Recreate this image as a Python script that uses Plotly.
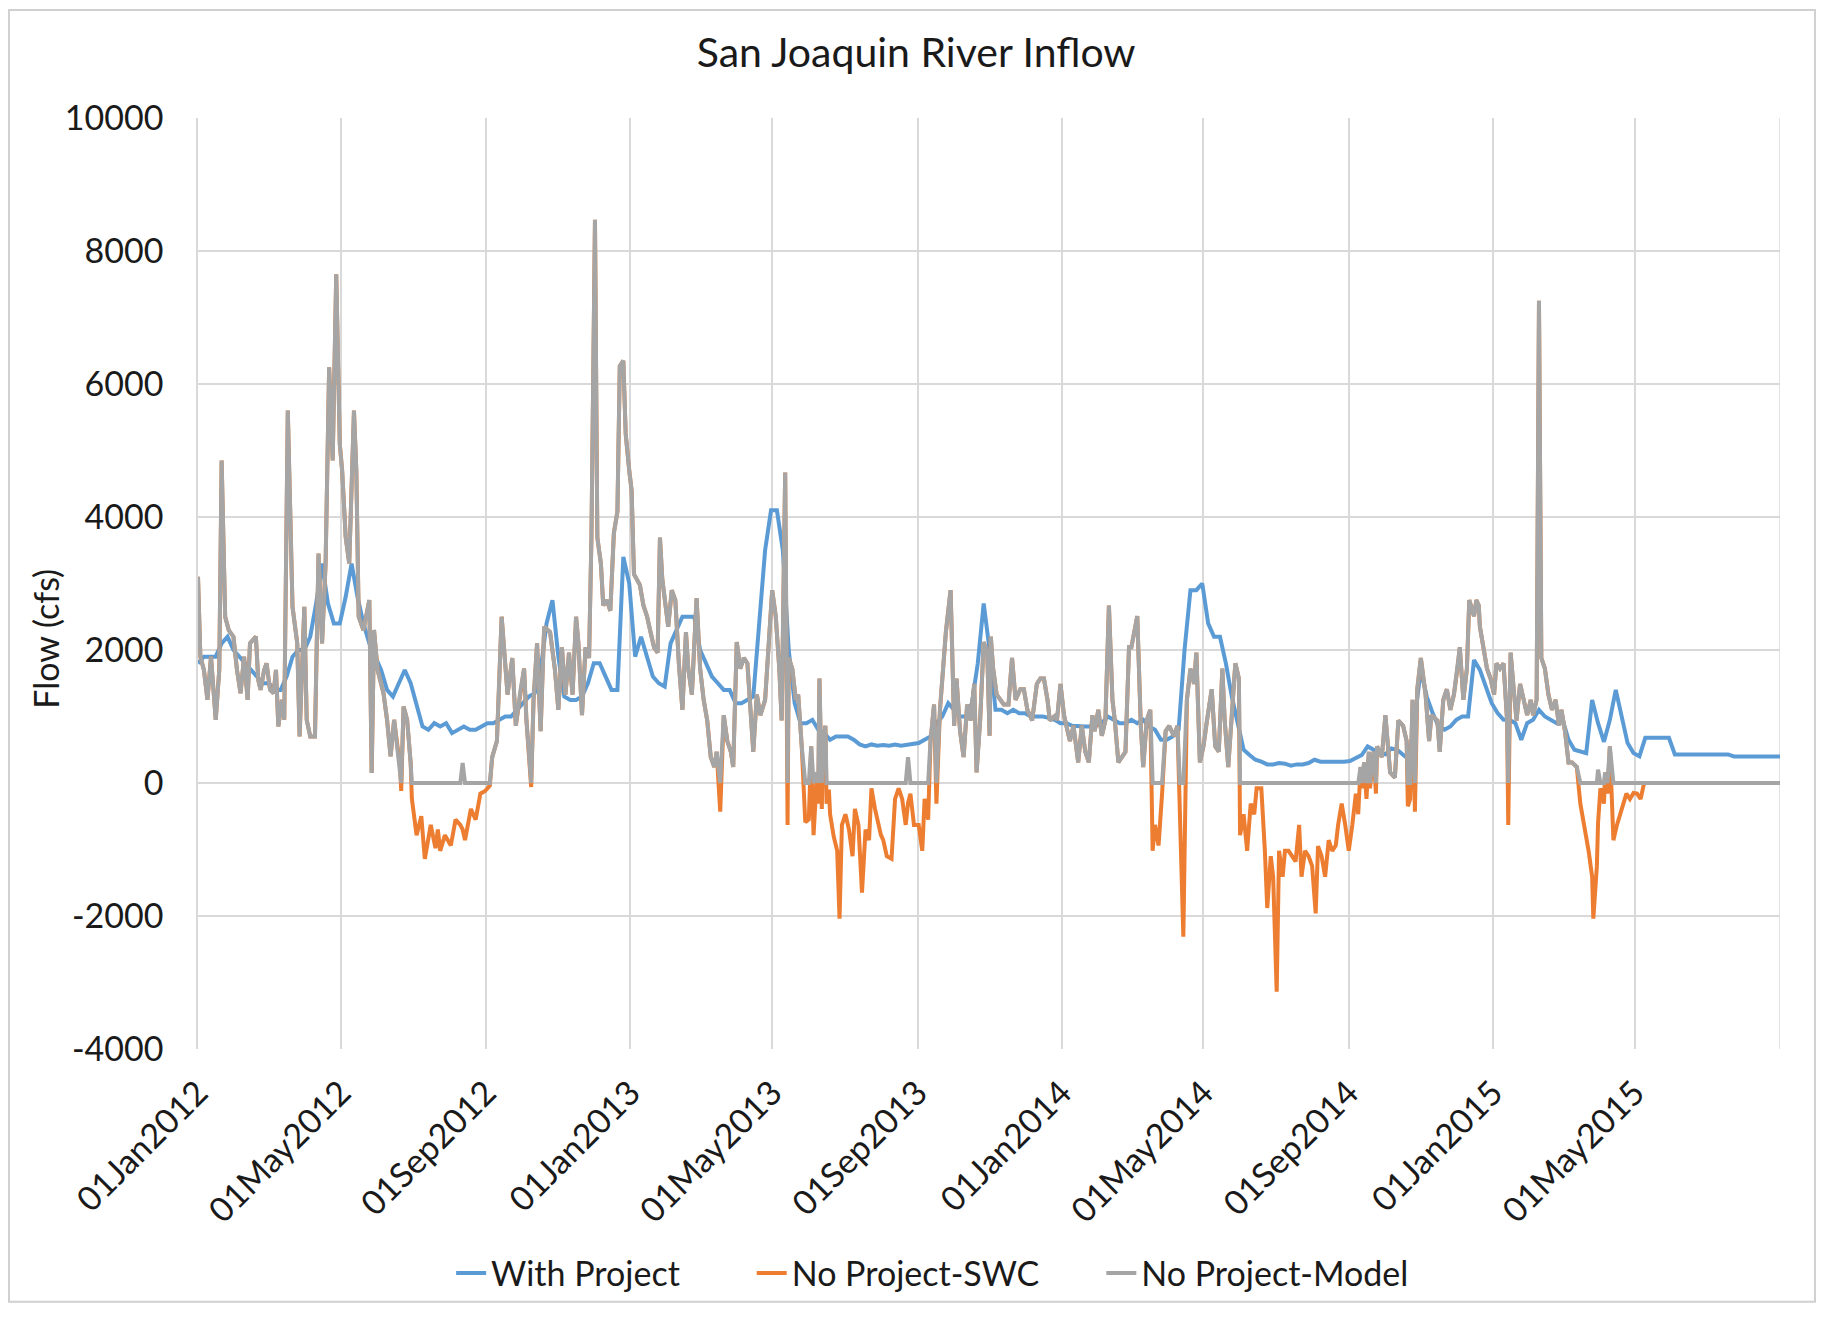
import pandas as pd
import plotly.graph_objects as go

start_date = "2012-01-01"

# ---- With Project: 5-day samples from 01Jan2012 (cfs) ----
with_project = [
    1800, 1900, 1900, 1900, 2100, 2200, 2000, 1900, 1800, 1700, 1600, 1500, 1500, 1400, 1400, 1600,
    1900, 2000, 2000, 2200, 2700, 3300, 2700, 2400, 2400, 2800, 3300, 2800, 2400, 2100, 1900, 1700,
    1400, 1300, 1500, 1700, 1500, 1200, 850, 800, 900, 850, 900, 750, 800, 850, 800, 800,
    850, 900, 900, 950, 1000, 1000, 1100, 1200, 1300, 1350, 1700, 2400, 2750, 1900, 1300, 1250,
    1250, 1300, 1500, 1800, 1800, 1600, 1400, 1400, 3400, 3000, 1900, 2200, 1900, 1600, 1500, 1450,
    2100, 2300, 2500, 2500, 2500, 2000, 1800, 1600, 1500, 1400, 1400, 1200, 1200, 1250, 1300, 2400,
    3500, 4100, 4100, 3500, 2000, 1200, 900, 900, 950, 800, 750, 650, 700, 700, 700, 650,
    580, 550, 580, 560, 570, 560, 580, 560, 570, 580, 600, 650, 700, 900, 1000, 1200,
    1100, 1000, 1000, 1200, 1800, 2700, 2000, 1100, 1100, 1050, 1100, 1050, 1050, 1000, 1000, 1000,
    980, 950, 900, 900, 860, 850, 850, 850, 860, 900, 1000, 950, 900, 900, 950, 900,
    950, 850, 800, 650, 650, 700, 800, 2000, 2900, 2900, 3000, 2400, 2200, 2200, 1800, 1300,
    900, 500, 420, 350, 320, 280, 280, 300, 290, 260, 280, 280, 300, 350, 320, 320,
    310, 310, 320, 330, 380, 420, 550, 500, 450, 430, 520, 500, 420, 350, 1000, 1700,
    1300, 1050, 850, 800, 850, 950, 1000, 1000, 1850, 1700, 1450, 1200, 1050, 950, 950, 900,
    650, 900, 950, 1100, 1000, 950, 900, 950, 650, 500, 480, 450, 1250, 900, 620, 950,
    1400, 1000, 600, 450, 400, 680, 680, 680, 680, 680, 430, 430, 430, 430, 430, 430,
    430, 430, 430, 430, 400, 400, 400, 400, 400, 400, 400, 400, 400,
]

# ---- No Project series: sampled on the days below (days after 01Jan2012) ----
no_project_days = [
    0, 2, 5, 8, 11, 15, 18, 20, 23, 26,
    30, 33, 36, 39, 42, 44, 49, 51, 53, 56,
    58, 61, 64, 66, 68, 71, 73, 76, 80, 84,
    86, 90, 92, 95, 99, 102, 105, 108, 111, 114,
    117, 120, 122, 125, 128, 132, 134, 136, 140, 145,
    147, 149, 152, 154, 157, 160, 163, 166, 169, 171,
    172, 174, 177, 180, 181, 185, 189, 192, 197, 201,
    203, 205, 209, 214, 218, 222, 224, 226, 231, 235,
    239, 243, 247, 249, 253, 257, 262, 266, 269, 273,
    276, 278, 282, 284, 287, 290, 293, 298, 302, 305,
    308, 311, 314, 317, 320, 322, 325, 328, 331, 333,
    336, 338, 341, 343, 346, 349, 352, 355, 357, 360,
    362, 365, 367, 369, 372, 374, 377, 380, 383, 386,
    389, 391, 393, 396, 398, 401, 404, 407, 410, 413,
    415, 418, 422, 425, 428, 431, 434, 437, 439, 442,
    445, 448, 451, 453, 456, 459, 462, 465, 468, 470,
    473, 476, 480, 483, 486, 489, 492, 494, 497, 499,
    500, 503, 506, 508, 511, 514, 517, 519, 521, 524,
    525, 526, 528, 529, 531, 532, 534, 535, 538, 541,
    543, 545, 548, 551, 554, 556, 559, 562, 565, 568,
    570, 573, 578, 580, 583, 587, 590, 593, 596, 599,
    601, 603, 606, 610, 613, 615, 618, 620, 623, 625,
    628, 633, 637, 640, 642, 645, 648, 651, 654, 657,
    659, 662, 665, 668, 670, 671, 673, 676, 679, 682,
    686, 689, 692, 696, 699, 702, 706, 710, 713, 716,
    719, 721, 726, 727, 730, 733, 736, 738, 741, 745,
    748, 751, 754, 757, 759, 762, 765, 768, 771, 774,
    776, 779, 782, 785, 788, 790, 795, 798, 800, 803,
    806, 808, 810, 813, 816, 819, 822, 826, 829, 831,
    834, 837, 840, 843, 845, 848, 851, 854, 858, 861,
    864, 867, 869, 872, 875, 878, 881, 882, 885, 888,
    891, 894, 896, 900, 903, 905, 908, 910, 913, 915,
    918, 920, 923, 926, 929, 932, 934, 937, 940, 943,
    946, 948, 951, 954, 957, 960, 963, 965, 968, 971,
    974, 977, 980, 982, 984, 985, 987, 989, 991, 992,
    995, 997, 998, 1002, 1005, 1009, 1013, 1016, 1020, 1023,
    1024, 1026, 1028, 1030, 1032, 1035, 1039, 1042, 1044, 1049,
    1051, 1054, 1057, 1060, 1063, 1066, 1068, 1071, 1074, 1076,
    1080, 1082, 1084, 1085, 1088, 1091, 1094, 1097, 1099, 1102,
    1105, 1108, 1109, 1111, 1114, 1116, 1119, 1122, 1125, 1128,
    1130, 1133, 1135, 1137, 1140, 1143, 1146, 1149, 1152, 1154,
    1157, 1159, 1160, 1163, 1167, 1170, 1174, 1177, 1180, 1181,
    1184, 1185, 1187, 1190, 1191, 1193, 1195, 1198, 1201, 1204,
    1207, 1209, 1212, 1215, 1218, 1221, 1224, 1340,
]

no_project_model = [
    3100, 1900, 1700, 1250, 1900, 950, 1700, 4850, 2500, 2300,
    2200, 1700, 1350, 1900, 1250, 2100, 2200, 1550, 1400, 1700,
    1800, 1400, 1350, 1700, 850, 1250, 950, 5600, 2650, 2100,
    700, 2650, 950, 700, 700, 3450, 2100, 3300, 6250, 4850,
    7650, 5100, 4700, 3700, 3300, 5600, 4700, 2500, 2300, 2750,
    150, 2300, 1700, 1550, 1350, 950, 400, 950, 450, 250,
    0, 1150, 950, 300, 0, 0, 0, 0, 0, 0,
    0, 0, 0, 0, 0, 0, 300, 0, 0, 0,
    0, 0, 0, 390, 630, 2500, 1330, 1880, 860, 1400,
    1720, 940, 0, 1250, 2100, 780, 2350, 2270, 1720, 1100,
    2040, 1330, 1960, 1330, 2500, 2100, 1020, 2040, 1880, 3690,
    8470, 3690, 3300, 2670, 2750, 2590, 3760, 4080, 6270, 6350,
    5250, 4700, 4400, 3140, 3060, 2980, 2670, 2510, 2270, 2040,
    1960, 3690, 3060, 2670, 2350, 2900, 2750, 1800, 1100, 2270,
    1720, 1330, 2780, 1720, 1250, 940, 390, 240, 470, 0,
    1020, 630, 470, 240, 2120, 1720, 1880, 1800, 940, 470,
    1330, 1020, 1250, 2040, 2900, 2510, 1720, 940, 4670, 0,
    1880, 1720, 1250, 1330, 550, 0, 0, 550, 0, 160,
    0, 1570, 0, 550, 860, 0, 0, 0, 0, 0,
    0, 0, 0, 0, 0, 0, 0, 0, 0, 0,
    0, 0, 0, 0, 0, 0, 0, 0, 0, 0,
    390, 0, 0, 0, 0, 0, 0, 630, 1180, 0,
    1100, 2270, 2900, 860, 1570, 780, 390, 1180, 940, 1490,
    160, 940, 2120, 1960, 710, 2200, 1720, 1330, 1250, 1180,
    1180, 1880, 1250, 1410, 1410, 1100, 940, 1490, 1570, 1570,
    1250, 940, 1020, 940, 1490, 1020, 780, 630, 860, 310,
    860, 470, 310, 1020, 780, 1100, 710, 940, 2670, 1250,
    940, 310, 390, 470, 2040, 2040, 2510, 860, 240, 940,
    1100, 0, 0, 0, 0, 780, 860, 710, 860, 0,
    0, 1250, 1720, 1490, 1960, 310, 550, 940, 1410, 550,
    470, 1720, 940, 240, 940, 1800, 1570, 0, 0, 0,
    0, 0, 0, 0, 0, 0, 0, 0, 0, 0,
    0, 0, 0, 0, 0, 0, 0, 0, 0, 0,
    0, 0, 0, 0, 0, 0, 0, 0, 0, 0,
    0, 0, 0, 0, 240, 0, 310, 0, 470, 0,
    470, 0, 550, 390, 1020, 160, 80, 940, 860, 630,
    0, 0, 1250, 0, 1410, 1880, 1330, 630, 1020, 940,
    470, 1250, 1410, 1100, 1330, 1720, 2040, 1250, 1720, 2750,
    2510, 2750, 2670, 2350, 2040, 1720, 1570, 1330, 1800, 1720,
    1800, 940, 0, 1960, 1330, 940, 1490, 1250, 1020, 1250,
    1020, 1250, 7250, 1880, 1720, 1330, 1100, 1250, 860, 1100,
    780, 470, 310, 310, 240, 0, 0, 0, 0, 0,
    0, 200, 0, 0, 160, 0, 550, 0, 0, 0,
    0, 0, 0, 0, 0, 0, 0, 0,
]

no_project_swc = [
    3100, 1900, 1700, 1250, 1900, 950, 1700, 4850, 2500, 2300,
    2200, 1700, 1350, 1900, 1250, 2100, 2200, 1550, 1400, 1700,
    1800, 1400, 1350, 1700, 850, 1250, 950, 5600, 2650, 2100,
    700, 2650, 950, 700, 700, 3450, 2100, 3300, 6250, 4850,
    7650, 5100, 4700, 3700, 3300, 5600, 4700, 2500, 2300, 2750,
    150, 2300, 1700, 1550, 1350, 950, 400, 950, 450, 250,
    -120, 1150, 950, 300, -235, -785, -500, -1140, -630, -980,
    -700, -1020, -785, -940, -550, -630, -700, -860, -390, -550,
    -160, -120, -40, 390, 630, 2500, 1330, 1880, 860, 1400,
    1720, 940, -60, 1250, 2100, 780, 2350, 2270, 1720, 1100,
    2040, 1330, 1960, 1330, 2500, 2100, 1020, 2040, 1880, 3690,
    8470, 3690, 3300, 2670, 2750, 2590, 3760, 4080, 6270, 6350,
    5250, 4700, 4400, 3140, 3060, 2980, 2670, 2510, 2270, 2040,
    1960, 3690, 3060, 2670, 2350, 2900, 2750, 1800, 1100, 2270,
    1720, 1330, 2780, 1720, 1250, 940, 390, 240, 470, -430,
    1020, 630, 470, 240, 2120, 1720, 1880, 1800, 940, 470,
    1330, 1020, 1250, 2040, 2900, 2510, 1720, 940, 4670, -630,
    1880, 1720, 1250, 1330, 550, -590, -550, 550, -785, 160,
    -310, 1570, -390, 550, 860, -310, -100, -470, -800, -1020,
    -2040, -630, -470, -700, -1100, -390, -630, -1650, -700, -860,
    -80, -390, -780, -860, -1100, -1140, -240, -80, -240, -630,
    -300, -160, -630, -630, -1020, -240, -550, 630, 1180, -310,
    1100, 2270, 2900, 860, 1570, 780, 390, 1180, 940, 1490,
    160, 940, 2120, 1960, 710, 2200, 1720, 1330, 1250, 1180,
    1180, 1880, 1250, 1410, 1410, 1100, 940, 1490, 1570, 1570,
    1250, 940, 1020, 940, 1490, 1020, 780, 630, 860, 310,
    860, 470, 310, 1020, 780, 1100, 710, 940, 2670, 1250,
    940, 310, 390, 470, 2040, 2040, 2510, 860, 240, 940,
    1100, -1020, -630, -940, -160, 780, 860, 710, 860, -240,
    -2310, 1250, 1720, 1490, 1960, 310, 550, 940, 1410, 550,
    470, 1720, 940, 240, 940, 1800, 1570, -785, -470, -1020,
    -310, -470, -80, -80, -1020, -1880, -1100, -1410, -3140, -1020,
    -1410, -1020, -1020, -1100, -1180, -630, -1410, -1020, -1100, -1250,
    -1960, -950, -1100, -1410, -860, -1020, -940, -630, -310, -630,
    -1020, -630, -160, -470, 240, -80, 310, -240, 470, -80,
    470, -160, 550, 390, 1020, 160, 80, 940, 860, 630,
    -350, -240, 1250, -430, 1410, 1880, 1330, 630, 1020, 940,
    470, 1250, 1410, 1100, 1330, 1720, 2040, 1250, 1720, 2750,
    2510, 2750, 2670, 2350, 2040, 1720, 1570, 1330, 1800, 1720,
    1800, 940, -630, 1960, 1330, 940, 1490, 1250, 1020, 1250,
    1020, 1250, 7250, 1880, 1720, 1330, 1100, 1250, 860, 1100,
    780, 470, 310, 310, 240, -310, -710, -1020, -1410, -2040,
    -1250, -600, -80, -310, 160, -160, 550, -860, -630, -470,
    -310, -160, -240, -150, -160, -240, 0, 0,
]

series_names = ["With Project", "No Project-SWC", "No Project-Model"]
series_colors = ["#5B9BD5", "#ED7D31", "#A5A5A5"]
series_widths = [4, 4, 4]

x_tick_vals = ["2012-01-01", "2012-05-01", "2012-09-01", "2013-01-01", "2013-05-01",
               "2013-09-01", "2014-01-01", "2014-05-01", "2014-09-01", "2015-01-01",
               "2015-05-01"]
x_tick_text = ["01Jan2012", "01May2012", "01Sep2012", "01Jan2013", "01May2013",
               "01Sep2013", "01Jan2014", "01May2014", "01Sep2014", "01Jan2015",
               "01May2015"]
x_grid_extra = ["2015-09-01"]
y_tick_vals = [-4000, -2000, 0, 2000, 4000, 6000, 8000, 10000]
y_tick_text = [str(v) for v in y_tick_vals]

t0 = pd.Timestamp(start_date)
wp_dates = pd.date_range(start_date, periods=len(with_project), freq="5D")
np_dates = t0 + pd.to_timedelta(no_project_days, unit="D")

FONT = "Lato"
TXT = "#1a1a1a"
GRID = "#d9d9d9"

fig = go.Figure()
legend_ids = ["legend", "legend2", "legend3"]
xs = [wp_dates, np_dates, np_dates]
ys = [with_project, no_project_swc, no_project_model]
for name, x, y, col, w, lg in zip(series_names, xs, ys, series_colors, series_widths, legend_ids):
    fig.add_trace(go.Scatter(x=x, y=y, mode="lines", name=name, legend=lg,
                             line=dict(color=col, width=w)))

legend_style = dict(orientation="h", y=-0.2409, yanchor="middle", xanchor="left",
                    font=dict(family=FONT, size=34, color=TXT),
                    bgcolor="rgba(0,0,0,0)", borderwidth=0)

fig.update_layout(
    width=1809, height=1306,
    paper_bgcolor="white", plot_bgcolor="white",
    margin=dict(l=190, r=37, t=110, b=257),
    title=dict(text="San Joaquin River Inflow", x=0.502, xanchor="center",
               y=0.966, yanchor="middle",
               font=dict(family=FONT, size=41, color=TXT)),
    font=dict(family=FONT, color=TXT),
    showlegend=True,
    legend=dict(x=0.160, **legend_style),
    legend2=dict(x=0.350, **legend_style),
    legend3=dict(x=0.571, **legend_style),
)

fig.update_xaxes(
    range=["2012-01-01", "2015-09-01"], automargin=False,
    tickmode="array", tickvals=x_tick_vals, ticktext=x_tick_text,
    tickangle=-45, tickfont=dict(family=FONT, size=34, color=TXT),
    showgrid=True, gridcolor=GRID, gridwidth=1.5,
    showline=False, zeroline=False, ticks="", ticklabelstandoff=16,
)
fig.update_yaxes(
    range=[-4000, 10000], automargin=False,
    tickmode="array", tickvals=y_tick_vals, ticktext=y_tick_text,
    tickfont=dict(family=FONT, size=34, color=TXT),
    showgrid=True, gridcolor=GRID, gridwidth=1.5,
    zeroline=False, showline=True, linecolor=GRID, linewidth=1.5,
    ticks="", ticklabelstandoff=26,
)

# y-axis title (placed lower than centre, as in the original)
fig.add_annotation(text="Flow (cfs)", xref="paper", yref="paper", x=-0.0965, y=0.441,
                   textangle=-90, showarrow=False, xanchor="center", yanchor="middle",
                   font=dict(family=FONT, size=34, color=TXT))

# right edge gridline (01Sep2015)
for xv in x_grid_extra:
    fig.add_shape(type="line", xref="x", yref="paper", x0=xv, x1=xv, y0=0, y1=1,
                  line=dict(color=GRID, width=1.5), layer="below")

# outer chart border
fig.add_shape(type="rect", xref="paper", yref="paper",
              x0=-0.1195, x1=1.0221, y0=-0.2716, y1=1.1161,
              line=dict(color="#d0d0d0", width=2), layer="below")

fig.write_html("out.html")
